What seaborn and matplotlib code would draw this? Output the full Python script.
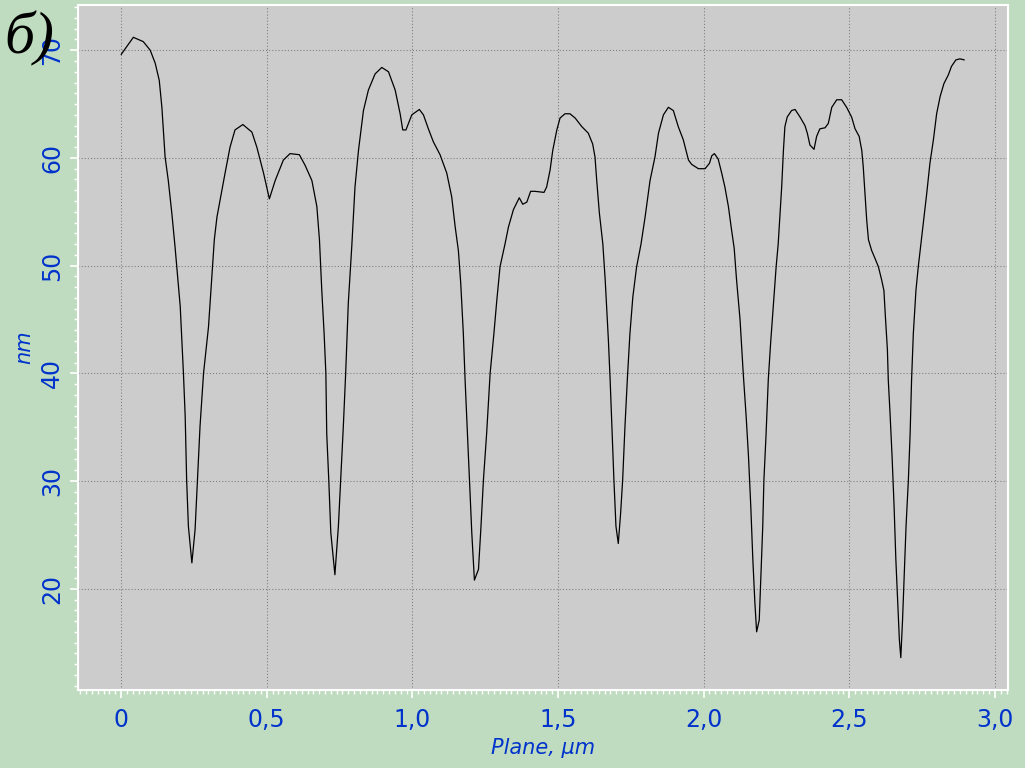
import matplotlib
matplotlib.use("Agg")
import matplotlib.pyplot as plt
import numpy as np
import pandas as pd
import seaborn as sns
from matplotlib.ticker import FuncFormatter, MultipleLocator

# profile
plane_um = [
    0.000, 0.042, 0.076, 0.100, 0.117, 0.131, 0.140, 0.151, 0.162, 0.174,
    0.185, 0.191, 0.203, 0.214, 0.220, 0.225, 0.231, 0.243, 0.254, 0.262,
    0.271, 0.283, 0.300, 0.320, 0.329, 0.342, 0.357, 0.374, 0.391, 0.418,
    0.449, 0.466, 0.489, 0.509, 0.529, 0.557, 0.580, 0.612, 0.632, 0.655,
    0.672, 0.681, 0.689, 0.697, 0.703, 0.706, 0.713, 0.720, 0.734, 0.746,
    0.754, 0.763, 0.771, 0.780, 0.792, 0.803, 0.815, 0.832, 0.849, 0.872,
    0.895, 0.918, 0.941, 0.958, 0.967, 0.978, 0.998, 1.024, 1.038, 1.055,
    1.072, 1.095, 1.118, 1.135, 1.147, 1.158, 1.166, 1.175, 1.181, 1.189,
    1.196, 1.204, 1.213, 1.227, 1.235, 1.244, 1.255, 1.267, 1.280, 1.290,
    1.301, 1.318, 1.330, 1.347, 1.367, 1.379, 1.393, 1.406, 1.421, 1.452,
    1.461, 1.473, 1.482, 1.496, 1.507, 1.524, 1.541, 1.559, 1.582, 1.604,
    1.619, 1.627, 1.633, 1.642, 1.654, 1.662, 1.673, 1.679, 1.685, 1.692,
    1.699, 1.707, 1.715, 1.722, 1.730, 1.738, 1.747, 1.757, 1.770, 1.785,
    1.799, 1.816, 1.833, 1.845, 1.862, 1.879, 1.896, 1.913, 1.930, 1.948,
    1.959, 1.982, 2.005, 2.020, 2.028, 2.037, 2.050, 2.062, 2.073, 2.085,
    2.096, 2.105, 2.113, 2.125, 2.136, 2.146, 2.154, 2.162, 2.169, 2.176,
    2.182, 2.191, 2.196, 2.203, 2.207, 2.214, 2.222, 2.230, 2.239, 2.249,
    2.256, 2.268, 2.274, 2.279, 2.287, 2.302, 2.314, 2.331, 2.348, 2.356,
    2.365, 2.379, 2.388, 2.399, 2.417, 2.428, 2.440, 2.457, 2.474, 2.491,
    2.508, 2.520, 2.534, 2.543, 2.548, 2.554, 2.560, 2.566, 2.577, 2.588,
    2.600, 2.611, 2.619, 2.624, 2.631, 2.634, 2.640, 2.647, 2.654, 2.660,
    2.666, 2.672, 2.677, 2.683, 2.689, 2.695, 2.703, 2.709, 2.714, 2.720,
    2.729, 2.737, 2.746, 2.766, 2.777, 2.789, 2.800, 2.812, 2.825, 2.840,
    2.851, 2.866, 2.880, 2.895,
]
height_nm = [
    69.6, 71.2, 70.8, 70.0, 68.8, 67.2, 64.7, 60.1, 57.9, 54.9,
    51.8, 49.9, 46.2, 40.0, 36.0, 30.1, 25.8, 22.4, 25.5, 30.1,
    35.1, 40.0, 44.3, 52.4, 54.5, 56.4, 58.6, 61.0, 62.6, 63.1,
    62.4, 61.0, 58.6, 56.2, 57.9, 59.8, 60.4, 60.3, 59.3, 57.9,
    55.5, 52.4, 47.7, 43.7, 40.0, 34.4, 30.1, 25.2, 21.3, 25.8,
    30.1, 35.1, 40.0, 46.5, 51.8, 57.3, 60.7, 64.4, 66.3, 67.8,
    68.4, 68.0, 66.3, 64.1, 62.6, 62.6, 64.0, 64.5, 64.0, 62.7,
    61.5, 60.3, 58.6, 56.4, 53.6, 51.4, 48.4, 43.7, 39.4, 34.4,
    30.1, 25.2, 20.8, 21.8, 25.5, 30.1, 34.4, 40.0, 43.7, 46.8,
    49.9, 52.0, 53.6, 55.2, 56.3, 55.7, 55.9, 56.9, 56.9, 56.8,
    57.3, 58.9, 60.7, 62.6, 63.7, 64.1, 64.1, 63.7, 62.9, 62.3,
    61.3, 60.1, 57.9, 54.9, 52.0, 48.7, 43.1, 39.4, 35.1, 30.1,
    25.8, 24.2, 27.0, 30.1, 35.1, 39.4, 43.7, 47.1, 49.9, 52.0,
    54.5, 57.9, 60.1, 62.3, 64.0, 64.7, 64.4, 62.9, 61.7, 59.8,
    59.4, 59.0, 59.0, 59.5, 60.2, 60.4, 59.9, 58.6, 57.3, 55.5,
    53.3, 51.6, 48.7, 45.0, 40.0, 36.0, 32.3, 27.6, 22.7, 18.7,
    16.0, 17.1, 20.8, 25.8, 30.1, 34.1, 39.4, 42.8, 46.2, 49.9,
    52.0, 57.3, 60.7, 62.9, 63.8, 64.4, 64.5, 63.8, 63.0, 62.3,
    61.2, 60.8, 62.0, 62.7, 62.8, 63.2, 64.7, 65.4, 65.4, 64.7,
    63.8, 62.7, 62.0, 60.7, 59.2, 56.7, 54.2, 52.4, 51.4, 50.7,
    49.9, 48.7, 47.7, 45.3, 42.2, 39.4, 36.3, 32.3, 27.6, 22.7,
    19.0, 15.3, 13.6, 17.1, 21.5, 25.8, 30.1, 34.4, 39.4, 43.7,
    47.7, 49.9, 52.0, 56.7, 59.5, 61.7, 64.1, 65.7, 66.9, 67.7,
    68.5, 69.1, 69.2, 69.1,
]

x_label = "Plane, µm"
y_label = "nm"
panel_tag = "б)"

bg_green = "#c0dcc0"
plot_grey = "#cccccc"
label_blue = "#0033cc"

df = pd.DataFrame({"plane": plane_um, "height": height_nm})

sns.set_style("white")
plt.rcParams["font.family"] = ["DejaVu Sans"]

fig = plt.figure(figsize=(10.25, 7.68), dpi=100, facecolor=bg_green)
ax = fig.add_axes([0.0761, 0.1016, 0.9073, 0.8919])
ax.set_facecolor(plot_grey)

sns.lineplot(data=df, x="plane", y="height", sort=False, estimator=None,
             color="black", linewidth=0.9, ax=ax)

ax.set_xlim(-0.148, 3.045)
ax.set_ylim(10.6, 74.2)

ax.xaxis.set_major_locator(MultipleLocator(0.5))
ax.xaxis.set_minor_locator(MultipleLocator(0.02))
ax.yaxis.set_major_locator(MultipleLocator(10))
ax.yaxis.set_minor_locator(MultipleLocator(1))


def comma_fmt(v, pos):
    if abs(v) < 1e-9:
        return "0"
    return f"{v:.1f}".replace(".", ",")


ax.xaxis.set_major_formatter(FuncFormatter(comma_fmt))
ax.yaxis.set_major_formatter(FuncFormatter(lambda v, pos: f"{v:.0f}"))

# sparse dotted grid, 1 px on / 2 px off
ax.grid(True, which="major", color="#7a7a7a", linestyle=(0, (1, 2)), linewidth=0.75)

for side in ["left", "bottom", "top", "right"]:
    ax.spines[side].set_color("white")
    ax.spines[side].set_linewidth(1.5)

ax.tick_params(axis="both", which="major", direction="out", color="white",
               length=6, width=1.2, labelcolor=label_blue, labelsize=17)
ax.tick_params(axis="both", which="minor", direction="out", color="white",
               length=3, width=1.0)
ax.tick_params(axis="x", which="major", pad=7)
ax.tick_params(axis="y", which="major", pad=4)
ax.tick_params(axis="x", which="both", bottom=True)
ax.tick_params(axis="y", which="both", left=True)
for lbl in ax.get_yticklabels():
    lbl.set_rotation(90)
    lbl.set_va("center")

ax.set_xlabel(x_label, color=label_blue, fontsize=15, style="italic", labelpad=4)
ax.set_ylabel(y_label, color=label_blue, fontsize=15, style="italic", labelpad=4)

fig.text(0.004, 0.931, panel_tag, fontsize=43, style="italic", color="black",
         family=["Liberation Serif", "DejaVu Serif"], va="baseline", ha="left")

fig.savefig("out.png", dpi=100, facecolor=bg_green)
